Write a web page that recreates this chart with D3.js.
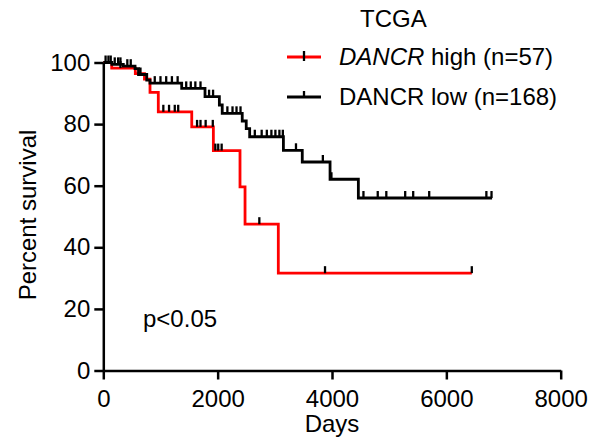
<!DOCTYPE html>
<html>
<head>
<meta charset="utf-8">
<script src="https://cdn.jsdelivr.net/npm/d3@7"></script>
<style>
  body { margin: 0; background: #fff; }
  text { font-family: "Liberation Sans", Arial, sans-serif; fill: #000; }
</style>
</head>
<body>
<div id="chart"></div>
<script>
// Kaplan-Meier steps (days, percent survival)
var highStepDays = [0, 147, 560, 720, 817, 962, 1547, 1925, 2391, 2479, 3061];
var highStepSurv = [100, 98.2, 96.4, 94.6, 90.3, 84.0, 79.1, 71.4, 59.6, 47.5, 31.6];
var highEndDay = 6445;
var highCensorDays = [300, 1050, 1150, 1250, 1310, 1640, 1700, 1790, 1915, 1960, 2010, 2070, 2729, 3878, 6445];

var lowStepDays = [0, 150, 350, 555, 616, 760, 817, 1371, 1779, 2030, 2080, 2430, 2500, 2560, 3150, 3480, 3966, 4461];
var lowStepSurv = [100, 99.4, 98.8, 98.0, 96.1, 94.3, 93.3, 91.6, 88.9, 86.2, 83.5, 81.0, 78.5, 75.9, 71.5, 67.7, 62.1, 56.0];
var lowEndDay = 6800;
var lowCensorDays = [40, 90, 130, 200, 260, 300, 420, 480, 650, 900, 1000, 1100, 1200, 1300, 1450, 1530, 1610, 1700,
  1850, 1920, 2170, 2260, 2330, 2400, 2650, 2770, 2860, 2940, 3010, 3080, 3140, 3370, 3840, 3990,
  4550, 4800, 4950, 5280, 5420, 5700, 6700, 6790];

var xTicks = [0, 2000, 4000, 6000, 8000];
var yTicks = [0, 20, 40, 60, 80, 100];
var legendLabels = [
  { italic: "DANCR", rest: " high (n=57)" },
  { italic: "", rest: "DANCR low (n=168)" }
];

var width = 591, height = 444;
var fontSize = 24;

var svg = d3.select("#chart")
  .append("svg")
  .attr("width", width)
  .attr("height", height);

var x = d3.scaleLinear().domain([0, 8000]).range([103.3, 560.7]);
var y = d3.scaleLinear().domain([0, 100]).range([370.5, 62.5]);

function stepPoints(days, surv, endDay) {
  var pts = days.map(function(d, i) { return [d, surv[i]]; });
  pts.push([endDay, surv[surv.length - 1]]);
  return pts;
}

function survAt(days, surv, day) {
  var i = d3.bisectRight(days, day) - 1;
  return surv[Math.max(0, i)];
}

var line = d3.line()
  .x(function(d) { return x(d[0]); })
  .y(function(d) { return y(d[1]); })
  .curve(d3.curveStepAfter);

// curves: red first so black sits on top
svg.append("path")
  .datum(stepPoints(highStepDays, highStepSurv, highEndDay))
  .attr("d", line)
  .attr("fill", "none")
  .attr("stroke", "#ff0000")
  .attr("stroke-width", 2.8);

svg.append("path")
  .datum(stepPoints(lowStepDays, lowStepSurv, lowEndDay))
  .attr("d", line)
  .attr("fill", "none")
  .attr("stroke", "#000")
  .attr("stroke-width", 2.8);

// censor ticks (black, pointing up)
function drawCensors(days, stepDays, stepSurv) {
  svg.append("g").selectAll("line")
    .data(days)
    .enter()
    .append("line")
    .attr("x1", function(d) { return x(d); })
    .attr("x2", function(d) { return x(d); })
    .attr("y1", function(d) { return y(survAt(stepDays, stepSurv, d)); })
    .attr("y2", function(d) { return y(survAt(stepDays, stepSurv, d)) - 7; })
    .attr("stroke", "#000")
    .attr("stroke-width", 2.3);
}
drawCensors(highCensorDays, highStepDays, highStepSurv);
drawCensors(lowCensorDays, lowStepDays, lowStepSurv);

// axes
var xAxis = svg.append("g")
  .attr("transform", "translate(0," + y(0) + ")")
  .call(d3.axisBottom(x).tickValues(xTicks).tickFormat(d3.format("d")).tickSize(9).tickSizeOuter(0).tickPadding(10));

var yAxis = svg.append("g")
  .attr("transform", "translate(" + x(0) + ",0)")
  .call(d3.axisLeft(y).tickValues(yTicks).tickSize(9).tickSizeOuter(0).tickPadding(4));

[xAxis, yAxis].forEach(function(a) {
  a.select(".domain").attr("stroke", "#000").attr("stroke-width", 2.5);
  a.selectAll(".tick line").attr("stroke", "#000").attr("stroke-width", 2.5);
  a.selectAll(".tick text")
    .style("font-family", "'Liberation Sans', Arial, sans-serif")
    .style("font-size", fontSize + "px")
    .attr("fill", "#000");
});

// axis titles
svg.append("text")
  .attr("x", (x.range()[0] + x.range()[1]) / 2)
  .attr("y", 432)
  .attr("text-anchor", "middle")
  .style("font-size", fontSize + "px")
  .text("Days");

svg.append("text")
  .attr("transform", "translate(36,215) rotate(-90)")
  .attr("text-anchor", "middle")
  .style("font-size", fontSize + "px")
  .text("Percent survival");

svg.append("text")
  .attr("x", 143)
  .attr("y", 327)
  .style("font-size", fontSize + "px")
  .text("p<0.05");

// legend
svg.append("text")
  .attr("x", 360)
  .attr("y", 27)
  .style("font-size", fontSize + "px")
  .text("TCGA");

var legendColors = ["#ff0000", "#000"];
var legendY = [57, 97];

legendLabels.forEach(function(l, i) {
  var g = svg.append("g");
  g.append("line")
    .attr("x1", 287).attr("x2", 321)
    .attr("y1", legendY[i]).attr("y2", legendY[i])
    .attr("stroke", legendColors[i])
    .attr("stroke-width", 2.8);
  g.append("line")
    .attr("x1", 304).attr("x2", 304)
    .attr("y1", legendY[i] - 6).attr("y2", i === 0 ? legendY[i] + 4 : legendY[i])
    .attr("stroke", "#000")
    .attr("stroke-width", 2.3);
  var t = g.append("text")
    .attr("x", 339)
    .attr("y", legendY[i] + 8)
    .style("font-size", fontSize + "px");
  if (l.italic) t.append("tspan").style("font-style", "italic").text(l.italic);
  t.append("tspan").text(l.rest);
});
</script>
</body>
</html>
